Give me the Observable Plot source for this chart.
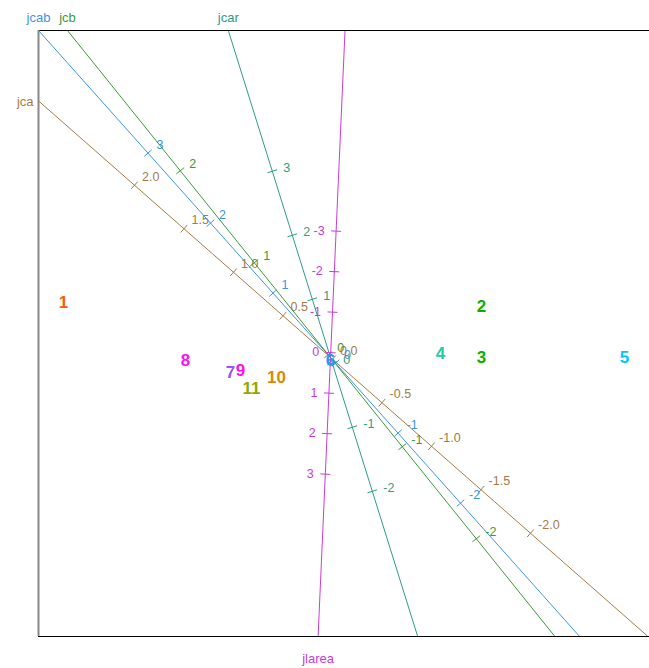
<!DOCTYPE html>
<html><head><meta charset="utf-8">
<script src="https://cdn.jsdelivr.net/npm/d3@7"></script>
<script src="https://cdn.jsdelivr.net/npm/@observablehq/plot@0.6"></script>
<style>body{margin:0;background:#fff} svg{display:block}</style>
</head><body><div id="chart"></div>
<script>
// Sample scores (biplot coordinates)
const pointLabels = ["1","2","3","4","5","6","7","8","9","10","11"];
const pointX = [-2.67, 1.51, 1.51, 1.10, 2.94, 0.00, -1.00, -1.45, -0.90, -0.54, -0.79];
const pointY = [0.55, 0.51, 0.00, 0.04, 0.00, -0.03, -0.15, -0.03, -0.13, -0.20, -0.31];
const pointColors = ["#ff5a00","#00b400","#00b400","#22cca6","#00c8ff","#1a9cff","#9a50ff","#ff10f0","#ff10f0","#dd8a00","#90a800"];

// Calibrated variable axes
const axisNames = ["jca","jcab","jcb","jcar","jlarea"];
const axisUx = [-0.99, -0.625, -0.74, -0.20, -0.018];
const axisUy = [0.87, 0.70, 0.92, 0.64, -0.405];
const axisMean = [0.02, 0.08, -0.03, 0.09, 0.12];
const axisTicks = [
  [-2, -1.5, -1, -0.5, 0, 0.5, 1, 1.5, 2],
  [-2, -1, 0, 1, 2, 3],
  [-2, -1, 0, 1, 2],
  [-2, -1, 0, 1, 2, 3],
  [-3, -2, -1, 0, 1, 2, 3]
];
const axisDecimals = [1, 0, 0, 0, 0];
const axisColors = ["#a47b48", "#3d94e6", "#3a9a3a", "#2f9c86", "#c83cd6"];

const xDomain = [-2.92, 3.19];
const yDomain = [-2.79, 3.27];

const marks = [];
const tickHalf = 0.05, labelOff = 0.115;

axisNames.forEach((name, i) => {
  const ux = axisUx[i], uy = axisUy[i];
  const len = Math.hypot(ux, uy);
  const px = uy / len, py = -ux / len; // perpendicular (screen right of direction)
  const color = axisColors[i];
  // axis line through the origin, clipped to frame
  marks.push(Plot.link([{a: -20, b: 20}], {
    x1: d => d.a * ux, y1: d => d.a * uy, x2: d => d.b * ux, y2: d => d.b * uy,
    stroke: color, strokeWidth: 1, clip: true
  }));
  const ticks = axisTicks[i].map(v => {
    const t = v - axisMean[i];
    return {v, cx: t * ux, cy: t * uy};
  });
  marks.push(Plot.link(ticks, {
    x1: d => d.cx - px * tickHalf, y1: d => d.cy - py * tickHalf,
    x2: d => d.cx + px * tickHalf, y2: d => d.cy + py * tickHalf,
    stroke: color, strokeWidth: 1, clip: true
  }));
  marks.push(Plot.text(ticks, {
    x: d => d.cx + px * labelOff, y: d => d.cy + py * labelOff,
    text: d => d.v.toFixed(axisDecimals[i]),
    fill: color, fontSize: 12.5,
    textAnchor: px >= 0 ? "start" : "end"
  }));
  // axis name at the positive end where it leaves the frame
  const tx = ux < 0 ? xDomain[0] / ux : xDomain[1] / ux;
  const ty = uy > 0 ? yDomain[1] / uy : yDomain[0] / uy;
  let opts;
  if (ty <= tx * 1.01) {
    const ex = ty * ux;
    opts = uy > 0
      ? {x: ex, y: yDomain[1], dy: -13, textAnchor: "middle"}
      : {x: ex, y: yDomain[0], dy: 22, textAnchor: "middle"};
  } else {
    const ey = tx * uy;
    opts = ux < 0
      ? {x: xDomain[0], y: ey, dx: -5, dy: 1, textAnchor: "end"}
      : {x: xDomain[1], y: ey, dx: 5, dy: 1, textAnchor: "start"};
  }
  marks.push(Plot.text([name], {
    x: () => opts.x, y: () => opts.y, text: d => d,
    dx: opts.dx || 0, dy: opts.dy || 0, textAnchor: opts.textAnchor,
    fill: color, fontSize: 13
  }));
});

// frame
marks.push(Plot.ruleY([yDomain[1], yDomain[0]], {stroke: "#000", strokeWidth: 1}));
marks.push(Plot.ruleX([xDomain[0]], {stroke: "#888", strokeWidth: 2}));

// sample labels
marks.push(Plot.text(pointLabels, {
  x: (d, i) => pointX[i], y: (d, i) => pointY[i], text: d => d,
  fill: (d, i) => pointColors[i], fontSize: 17, fontWeight: "bold"
}));

const chart = Plot.plot({
  width: 649, height: 668,
  marginLeft: 38, marginRight: 0, marginTop: 30, marginBottom: 32,
  x: {domain: xDomain, axis: null},
  y: {domain: yDomain, axis: null},
  color: {type: "identity"},
  style: {fontFamily: "'Liberation Sans', Arial, sans-serif", background: "#fff", overflow: "visible"},
  marks
});
document.getElementById("chart").appendChild(chart);
</script>
</body></html>
